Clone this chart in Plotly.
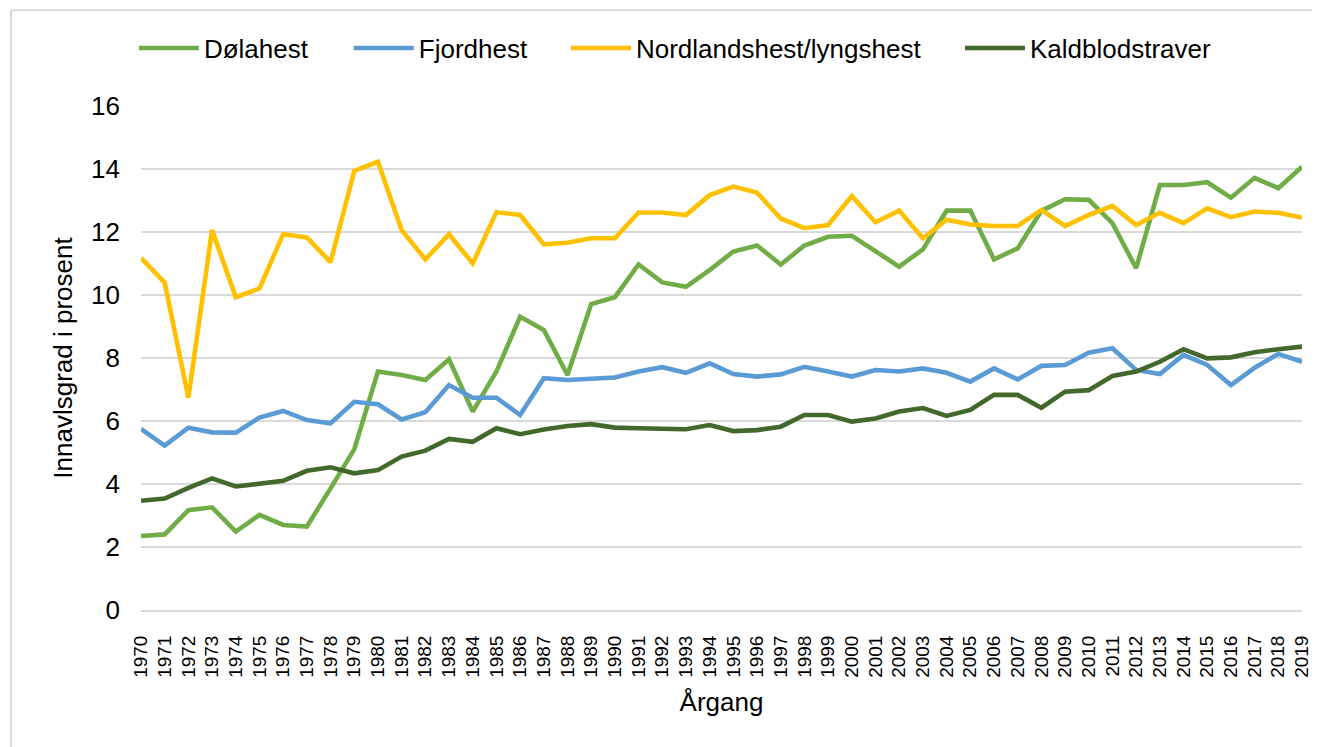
import plotly.graph_objects as go

years = [str(y) for y in range(1970, 2020)]

dolahest = [2.35, 2.40, 3.17, 3.26, 2.49, 3.02, 2.70, 2.65, 3.86, 5.10,
            7.57, 7.46, 7.30, 7.96, 6.30, 7.57, 9.31, 8.89, 7.46, 9.71,
            9.93, 10.97, 10.40, 10.26, 10.79, 11.38, 11.57, 10.97, 11.57, 11.85,
            11.88, 11.38, 10.90, 11.45, 12.68, 12.68, 11.13, 11.48, 12.67, 13.04,
            13.02, 12.28, 10.85, 13.49, 13.49, 13.58, 13.09, 13.72, 13.39, 14.07]

fjordhest = [5.75, 5.22, 5.79, 5.64, 5.63, 6.11, 6.32, 6.03, 5.93, 6.61,
             6.53, 6.05, 6.28, 7.14, 6.74, 6.74, 6.19, 7.36, 7.30, 7.33,
             7.38, 7.57, 7.71, 7.53, 7.83, 7.49, 7.41, 7.48, 7.72, 7.57,
             7.41, 7.62, 7.57, 7.67, 7.53, 7.25, 7.67, 7.32, 7.75, 7.78,
             8.17, 8.31, 7.62, 7.49, 8.10, 7.78, 7.14, 7.69, 8.13, 7.88]

nordland = [11.18, 10.39, 6.74, 12.06, 9.93, 10.21, 11.93, 11.83, 11.04, 13.94,
            14.23, 12.06, 11.13, 11.93, 11.00, 12.63, 12.54, 11.61, 11.66, 11.80,
            11.80, 12.62, 12.62, 12.54, 13.17, 13.44, 13.25, 12.43, 12.12, 12.22,
            13.14, 12.31, 12.68, 11.80, 12.39, 12.24, 12.19, 12.19, 12.70, 12.19,
            12.54, 12.83, 12.22, 12.61, 12.28, 12.75, 12.47, 12.65, 12.61, 12.46]

kaldblod = [3.47, 3.54, 3.88, 4.18, 3.92, 4.00, 4.10, 4.42, 4.53, 4.34,
            4.44, 4.87, 5.06, 5.43, 5.34, 5.77, 5.58, 5.73, 5.84, 5.90,
            5.79, 5.77, 5.77, 5.74, 5.87, 5.68, 5.71, 5.82, 6.19, 6.19,
            5.98, 6.08, 6.30, 6.41, 6.16, 6.35, 6.83, 6.83, 6.42, 6.93,
            6.98, 7.43, 7.57, 7.88, 8.28, 7.99, 8.02, 8.18, 8.28, 8.36]

series_names = ["Dølahest", "Fjordhest", "Nordlandshest/lyngshest", "Kaldblodstraver"]
series_values = [dolahest, fjordhest, nordland, kaldblod]
series_colors = ["#70AD47", "#5B9BD5", "#FFC000", "#43682B"]

y_ticks = [0, 2, 4, 6, 8, 10, 12, 14, 16]

FONT = "Liberation Sans, Arial, sans-serif"

legend_ids = ["legend", "legend2", "legend3", "legend4"]
legend_x = [-0.0061, 0.1790, 0.3660, 0.7054]

fig = go.Figure()
for name, vals, col, lid in zip(series_names, series_values, series_colors, legend_ids):
    fig.add_trace(go.Scatter(
        x=years, y=vals, name=name, mode="lines",
        line=dict(color=col, width=4.6, shape="linear"),
        legend=lid,
    ))

legend_common = dict(
    orientation="h", y=1.115, xanchor="left", yanchor="middle",
    font=dict(size=26, family=FONT, color="#000000"),
    itemwidth=60, bgcolor="rgba(0,0,0,0)",
)

layout_legends = {}
for lid, lx in zip(legend_ids, legend_x):
    layout_legends[lid] = dict(legend_common, x=lx)

fig.update_layout(
    width=1320, height=747,
    margin=dict(l=133, r=26, t=98, b=145),
    paper_bgcolor="white", plot_bgcolor="white",
    font=dict(family=FONT, color="#000000"),
    showlegend=True,
    xaxis=dict(
        type="category", categoryorder="array", categoryarray=years,
        tickmode="array", tickvals=years, ticktext=years,
        tickangle=-90, tickfont=dict(size=19, family=FONT, color="#000000"),
        showgrid=False, showline=True, linecolor="#D9D9D9", linewidth=2,
        ticks="", ticklabelstandoff=16,
        title=dict(text="Årgang", font=dict(size=26, family=FONT, color="#000000"), standoff=16),
        automargin=False, fixedrange=True,
    ),
    yaxis=dict(
        range=[0, 16], tickvals=y_ticks, ticktext=[str(v) for v in y_ticks],
        tickfont=dict(size=26, family=FONT, color="#000000"),
        showgrid=True, gridcolor="#D9D9D9", gridwidth=2,
        zeroline=False, showline=False, ticks="", ticklabelstandoff=20,
        title=dict(text="Innavlsgrad i prosent", font=dict(size=26, family=FONT, color="#000000"), standoff=10),
        automargin=False, fixedrange=True,
    ),
    **layout_legends,
)

# outer chart border (light grey frame around chart area)
fig.add_shape(type="line", xref="paper", yref="paper",
              x0=-0.112, x1=1.03, y0=1.19, y1=1.19,
              line=dict(color="#D9D9D9", width=2), layer="below")
fig.add_shape(type="line", xref="paper", yref="paper",
              x0=-0.112, x1=-0.112, y0=1.19, y1=-0.30,
              line=dict(color="#D9D9D9", width=2), layer="below")

fig.write_html("out.html")
